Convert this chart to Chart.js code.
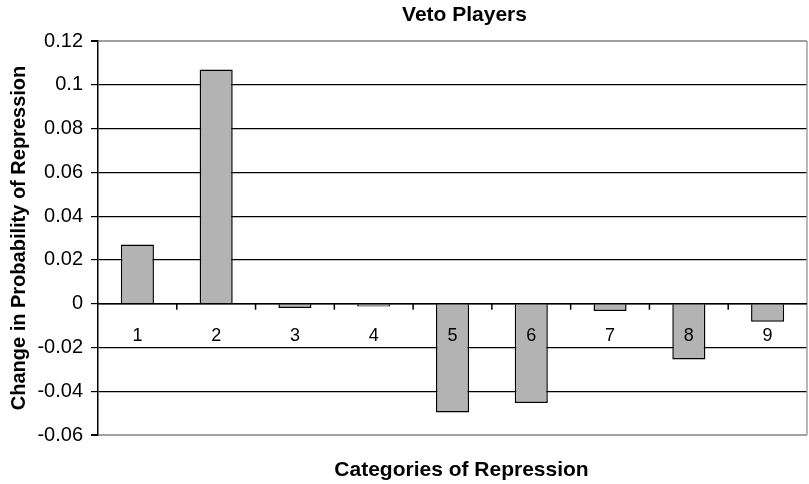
<!DOCTYPE html>
<html>
<head>
<meta charset="utf-8">
<script src="https://cdn.jsdelivr.net/npm/chart.js@4"></script>
<style>
  html, body { margin: 0; padding: 0; background: #fff; }
  #wrap { width: 809px; height: 484px; }
</style>
</head>
<body>
<div id="wrap"><canvas id="grafico"></canvas></div>
<script>
const categorias = ["1", "2", "3", "4", "5", "6", "7", "8", "9"];
const valores = [0.027, 0.107, -0.002, -0.0013, -0.0497, -0.0454, -0.0033, -0.0255, -0.0083];
const yTicks = [-0.06, -0.04, -0.02, 0, 0.02, 0.04, 0.06, 0.08, 0.1, 0.12];
const yTickLabels = ["-0.06", "-0.04", "-0.02", "0", "0.02", "0.04", "0.06", "0.08", "0.1", "0.12"];
const titulo = "Veto Players";
const tituloX = "Categories of Repression";

const fonte = "'Liberation Sans', Arial, Helvetica, sans-serif";

// category numbers and small ticks on the zero line, grey right frame, and the two titles
const eixoZero = {
  id: "eixoZero",
  afterDatasetsDraw(chart) {
    const { ctx, chartArea } = chart;
    const x = chart.scales.x;
    const y = chart.scales.y;
    const y0 = y.getPixelForValue(0);
    const meio = (chartArea.left + chartArea.right) / 2;
    ctx.save();
    ctx.strokeStyle = "#a0a0a0";
    ctx.lineWidth = 1.5;
    ctx.beginPath();
    ctx.moveTo(chartArea.right, chartArea.top);
    ctx.lineTo(chartArea.right, chartArea.bottom);
    ctx.stroke();

    ctx.strokeStyle = "#000";
    ctx.lineWidth = 1.5;
    ctx.beginPath();
    ctx.moveTo(chartArea.left, y0);
    ctx.lineTo(chartArea.right, y0);
    for (let i = 0; i < categorias.length - 1; i++) {
      const xm = (x.getPixelForValue(i) + x.getPixelForValue(i + 1)) / 2;
      ctx.moveTo(xm, y0);
      ctx.lineTo(xm, y0 + 6);
    }
    ctx.stroke();

    ctx.fillStyle = "#000";
    ctx.font = "18px " + fonte;
    ctx.textAlign = "center";
    ctx.textBaseline = "middle";
    categorias.forEach((c, i) => {
      ctx.fillText(c, x.getPixelForValue(i), y0 + 32);
    });

    ctx.font = "bold 21px " + fonte;
    ctx.fillText(titulo, meio + 12, chartArea.top - 26);
    ctx.fillText(tituloX, meio + 9, chartArea.bottom + 35);
    ctx.restore();
  }
};

const ctx = document.getElementById("grafico");

new Chart(ctx, {
  type: "bar",
  data: {
    labels: categorias,
    datasets: [
      {
        label: titulo,
        data: valores,
        backgroundColor: "#b3b3b3",
        borderColor: "#000",
        borderWidth: 1.5,
        barPercentage: 0.42,
        categoryPercentage: 1
      }
    ]
  },
  options: {
    responsive: true,
    maintainAspectRatio: false,
    animation: false,
    layout: { padding: { left: 0, right: 2, top: 41, bottom: 49 } },
    plugins: {
      legend: { display: false },
      tooltip: { enabled: false },
      title: { display: false }
    },
    scales: {
      x: {
        display: false
      },
      y: {
        min: -0.06,
        max: 0.12,
        afterBuildTicks(scale) {
          scale.ticks = yTicks.map(v => ({ value: v }));
        },
        afterFit(scale) {
          scale.width = 98;
        },
        ticks: {
          color: "#000",
          font: { family: fonte, size: 20 },
          padding: 8,
          callback: (v, i) => yTickLabels[i]
        },
        grid: {
          color: c => (c.tick && (c.tick.value === 0.12 || c.tick.value === -0.06)) ? "#a0a0a0" : "#000",
          tickColor: "#000",
          lineWidth: c => (c.tick && (c.tick.value === 0.12 || c.tick.value === -0.06)) ? 2 : 1.2,
          tickLength: 7
        },
        border: { color: "#000", width: 1.5 },
        title: {
          display: true,
          text: "Change in Probability of Repression",
          color: "#000",
          font: { family: fonte, size: 20, weight: "bold" },
          padding: { top: 7, bottom: 0 }
        }
      }
    }
  },
  plugins: [eixoZero]
});
</script>
</body>
</html>
